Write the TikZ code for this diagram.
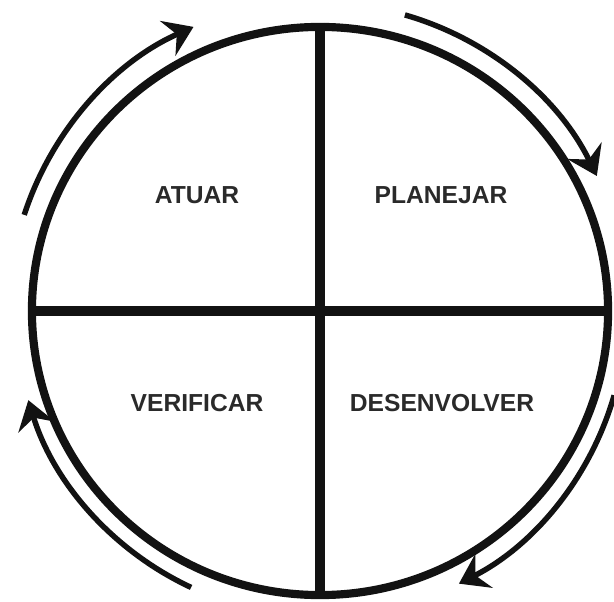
\documentclass[tikz,border=0pt]{standalone}
\usepackage{fontspec}
\setmainfont{Liberation Sans}
\usepackage{tikz}
\usetikzlibrary{arrows.meta,shapes.geometric,calc}
\definecolor{Ink}{HTML}{121212}
\definecolor{LabelInk}{HTML}{2A2A2A}

\begin{document}
\begin{tikzpicture}[x=0.025cm, y=0.025cm,
  every node/.style={font=\bfseries\fontsize{17.5}{20}\selectfont, text=LabelInk},
  ring/.style={draw=Ink, ellipse, line width=5.8pt, inner sep=0pt, minimum width=14.4cm, minimum height=14.2cm},
  divider/.style={draw=Ink, line width=6.6pt},
  cyclearrow/.style={draw=Ink, line width=3.9pt, -{Stealth[length=20pt, width=27pt, inset=7pt]}}]
\useasboundingbox (0,0) rectangle (614,601);
\coordinate (c) at (320,290);
\node[ring] (pdca) at (c) {};
\draw[divider] (pdca.north) -- (pdca.south);
\draw[divider] (pdca.west) -- (pdca.east);
\node (atuar) at (197,406) {ATUAR};
\node (planejar) at (441,406) {PLANEJAR};
\node (verificar) at (197,198) {VERIFICAR};
\node (desenvolver) at (442,198) {DESENVOLVER};
% cycle arrows around the ring
\draw[cyclearrow] ($(c)+(162:311)$) arc[start angle=162, end angle=114, radius=311];
\draw[cyclearrow] ($(c)+(74:308)$) arc[start angle=74, end angle=26, radius=308];
\draw[cyclearrow] ($(c)+(-16:306)$) arc[start angle=-16, end angle=-63, radius=306];
\draw[cyclearrow] ($(c)+(245:305)$) arc[start angle=245, end angle=197, radius=305];
\end{tikzpicture}
\end{document}
